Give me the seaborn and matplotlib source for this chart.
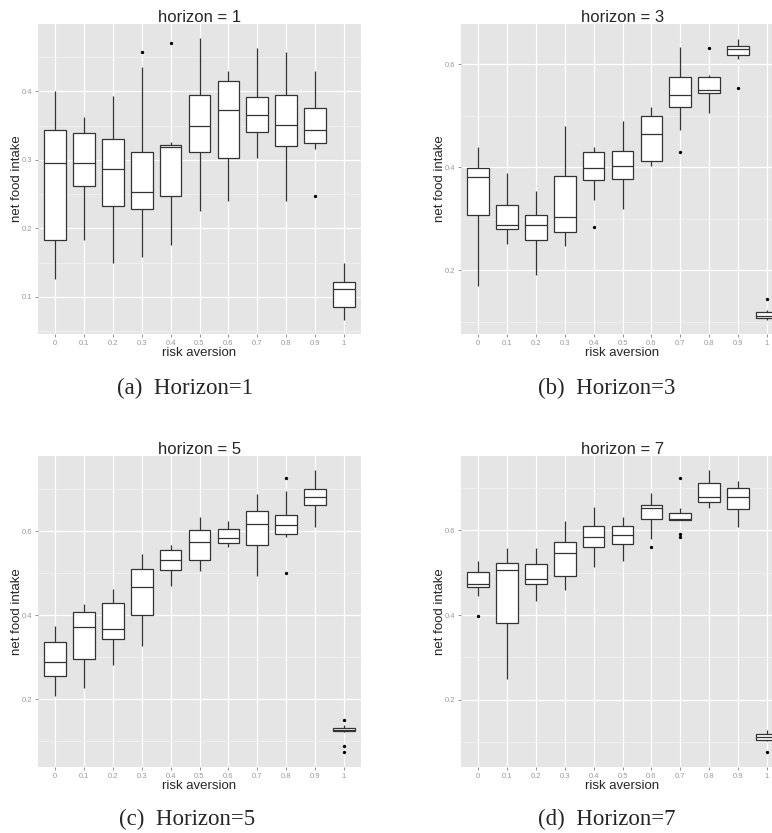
import numpy as np
import pandas as pd
import matplotlib
matplotlib.use("Agg")
import matplotlib.pyplot as plt
import seaborn as sns
from matplotlib.ticker import MultipleLocator, NullLocator, FormatStrFormatter

# ---------------- data ----------------
risk_levels = ["0", "0.1", "0.2", "0.3", "0.4", "0.5", "0.6", "0.7", "0.8", "0.9", "1"]

# horizon = 1
h1_low  = [0.126, 0.183, 0.149, 0.159, 0.176, 0.226, 0.240, 0.303, 0.240, 0.316, 0.066]
h1_q1   = [0.183, 0.262, 0.233, 0.228, 0.247, 0.311, 0.302, 0.340, 0.320, 0.324, 0.085]
h1_med  = [0.295, 0.295, 0.286, 0.253, 0.318, 0.350, 0.372, 0.365, 0.351, 0.344, 0.111]
h1_q3   = [0.343, 0.339, 0.330, 0.312, 0.322, 0.395, 0.415, 0.391, 0.395, 0.376, 0.122]
h1_high = [0.400, 0.363, 0.393, 0.436, 0.326, 0.477, 0.430, 0.463, 0.457, 0.430, 0.149]
h1_out_risk  = ["0.3", "0.4", "0.9"]
h1_out_value = [0.457, 0.470, 0.247]

# horizon = 3
h3_low  = [0.170, 0.250, 0.190, 0.246, 0.337, 0.319, 0.403, 0.473, 0.506, 0.611, 0.104]
h3_q1   = [0.307, 0.280, 0.259, 0.274, 0.375, 0.377, 0.412, 0.517, 0.544, 0.617, 0.107]
h3_med  = [0.380, 0.288, 0.288, 0.304, 0.399, 0.402, 0.465, 0.540, 0.549, 0.630, 0.110]
h3_q3   = [0.399, 0.326, 0.307, 0.383, 0.430, 0.431, 0.500, 0.575, 0.575, 0.636, 0.118]
h3_high = [0.439, 0.389, 0.353, 0.480, 0.439, 0.489, 0.516, 0.633, 0.579, 0.649, 0.122]
h3_out_risk  = ["0.4", "0.7", "0.8", "0.9", "1"]
h3_out_value = [0.283, 0.429, 0.631, 0.553, 0.144]

# horizon = 5
h5_low  = [0.208, 0.227, 0.280, 0.327, 0.470, 0.506, 0.561, 0.493, 0.587, 0.610, 0.122]
h5_q1   = [0.255, 0.295, 0.342, 0.401, 0.507, 0.531, 0.571, 0.567, 0.593, 0.663, 0.124]
h5_med  = [0.287, 0.372, 0.367, 0.466, 0.532, 0.575, 0.583, 0.618, 0.614, 0.682, 0.127]
h5_q3   = [0.335, 0.407, 0.429, 0.509, 0.556, 0.602, 0.606, 0.649, 0.638, 0.700, 0.130]
h5_high = [0.373, 0.426, 0.462, 0.546, 0.566, 0.633, 0.625, 0.689, 0.696, 0.746, 0.137]
h5_out_risk  = ["0.8", "0.8", "1", "1", "1"]
h5_out_value = [0.726, 0.500, 0.151, 0.088, 0.073]

# horizon = 7
h7_low  = [0.446, 0.250, 0.433, 0.459, 0.513, 0.529, 0.580, 0.624, 0.653, 0.609, 0.103]
h7_q1   = [0.467, 0.382, 0.473, 0.493, 0.560, 0.568, 0.628, 0.624, 0.667, 0.650, 0.105]
h7_med  = [0.474, 0.506, 0.486, 0.547, 0.584, 0.590, 0.652, 0.628, 0.679, 0.679, 0.113]
h7_q3   = [0.502, 0.524, 0.520, 0.572, 0.611, 0.611, 0.661, 0.642, 0.712, 0.701, 0.120]
h7_high = [0.529, 0.559, 0.558, 0.623, 0.655, 0.631, 0.688, 0.654, 0.742, 0.718, 0.129]
h7_out_risk  = ["0", "0.6", "0.7", "0.7", "0.7", "1"]
h7_out_value = [0.397, 0.562, 0.725, 0.591, 0.585, 0.076]

titles = ["horizon = 1", "horizon = 3", "horizon = 5", "horizon = 7"]
captions = ["(a)  Horizon=1", "(b)  Horizon=3", "(c)  Horizon=5", "(d)  Horizon=7"]
x_label = "risk aversion"
y_label = "net food intake"

# ---------------- style ----------------
sns.set_theme(style="white")
plt.rcParams["font.family"] = ["Liberation Sans", "DejaVu Sans"]

W, H = 772, 833
fig = plt.figure(figsize=(W / 100, H / 100), dpi=100)


def box_frame(low, q1, med, q3, high):
    rows = []
    for r, vals in zip(risk_levels, zip(low, q1, med, q3, high)):
        for v in vals:
            rows.append((r, v))
    return pd.DataFrame(rows, columns=[x_label, y_label])


panels = [
    (box_frame(h1_low, h1_q1, h1_med, h1_q3, h1_high), h1_out_risk, h1_out_value),
    (box_frame(h3_low, h3_q1, h3_med, h3_q3, h3_high), h3_out_risk, h3_out_value),
    (box_frame(h5_low, h5_q1, h5_med, h5_q3, h5_high), h5_out_risk, h5_out_value),
    (box_frame(h7_low, h7_q1, h7_med, h7_q3, h7_high), h7_out_risk, h7_out_value),
]

# layout in pixels: (left, top, right, bottom)
rects = [(38, 24, 361, 334), (461, 24, 784, 334), (38, 456, 361, 767), (461, 456, 784, 767)]
ylims = [(0.046, 0.498), (0.076, 0.678), (0.038, 0.779), (0.041, 0.776)]
major_steps = [0.1, 0.2, 0.2, 0.2]
caption_pos = [(185, 388), (607, 388), (187, 819), (607, 819)]

for i, ((df, orisk, oval), (l, t, r, b)) in enumerate(zip(panels, rects)):
    ax = fig.add_axes([l / W, 1 - b / H, (r - l) / W, (b - t) / H])
    ax.set_facecolor("#E5E5E5")
    sns.boxplot(data=df, x=x_label, y=y_label, order=risk_levels, ax=ax,
                whis=(0, 100), width=0.75, color="white", saturation=1,
                linecolor="#333333", linewidth=0.9, showfliers=False,
                showcaps=False)
    out_df = pd.DataFrame({x_label: orisk, y_label: oval})
    sns.stripplot(data=out_df, x=x_label, y=y_label, order=risk_levels, ax=ax,
                  jitter=False, color="black", size=2.4, linewidth=0)
    ax.set_xlim(-0.6, len(risk_levels) - 0.4)
    ax.set_ylim(*ylims[i])
    ax.yaxis.set_major_locator(MultipleLocator(major_steps[i]))
    ax.yaxis.set_minor_locator(MultipleLocator(major_steps[i] / 2))
    ax.yaxis.set_major_formatter(FormatStrFormatter("%.1f"))
    ax.xaxis.set_minor_locator(NullLocator())
    ax.set_axisbelow(True)
    ax.grid(which="major", color="white", linewidth=0.9)
    ax.grid(which="minor", axis="y", color="#F2F2F2", linewidth=0.5)
    for s in ax.spines.values():
        s.set_visible(False)
    ax.tick_params(which="major", direction="out", length=2.5, width=0.6,
                   color="#7F7F7F", labelcolor="#9A9A9A", labelsize=5.5, pad=1.5,
                   bottom=True, left=True)
    ax.tick_params(which="minor", length=0)
    ax.set_title(titles[i], fontsize=12, pad=1.5)
    ax.set_xlabel(x_label, fontsize=9.5)
    ax.set_ylabel(y_label, fontsize=9.5)
    hpx = b - t
    ax.xaxis.set_label_coords(0.5, -19 / hpx)
    ax.xaxis.label.set_va("center")
    ax.yaxis.set_label_coords(-21 / (r - l), 0.5)
    ax.yaxis.label.set_va("center")
    cx, cy = caption_pos[i]
    fig.text(cx / W, 1 - cy / H, captions[i], family=["Liberation Serif", "DejaVu Serif"],
             fontsize=16.5, ha="center", va="center")

fig.savefig("out.png", dpi=100, facecolor="white")
